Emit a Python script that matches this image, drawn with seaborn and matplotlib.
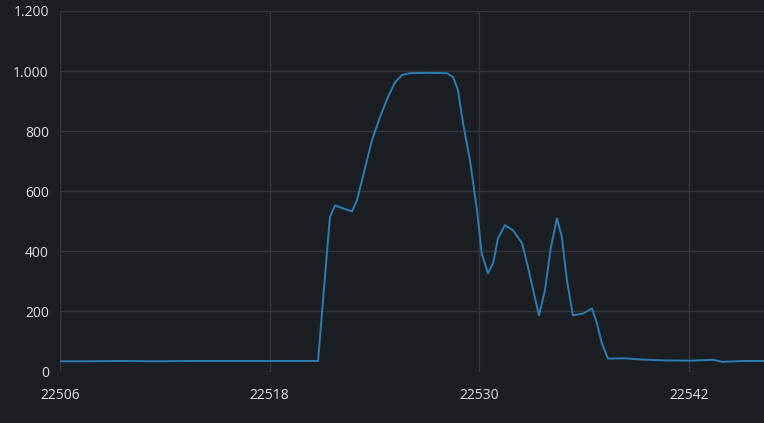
import numpy as np
import pandas as pd
import matplotlib
matplotlib.use("Agg")
import matplotlib.pyplot as plt
from matplotlib.ticker import FuncFormatter
import seaborn as sns

# values
x_vals = [22506, 22507.5, 22509.5, 22511.5, 22513.5, 22515.5, 22517.5, 22519.5,
          22520.77, 22521.45, 22521.74, 22522.20, 22522.71, 22523.00, 22523.29,
          22523.57, 22523.86, 22524.32, 22524.77, 22525.18, 22525.58, 22526.03,
          22527.0, 22528.15, 22528.50, 22528.78, 22529.07, 22529.47, 22529.87,
          22530.14, 22530.50, 22530.79, 22531.07, 22531.47, 22531.93, 22532.45,
          22532.79, 22533.13, 22533.42, 22533.76, 22534.10, 22534.45, 22534.73,
          22535.02, 22535.36, 22535.94, 22536.45, 22536.74, 22537.02, 22537.37,
          22538.3, 22539.2, 22540.6, 22542.1, 22543.4, 22543.9, 22545.1, 22546.3]
y_vals = [34, 34, 35, 34, 35, 35, 35, 35,
          35, 513, 553, 543, 533, 570, 637,
          703, 770, 847, 913, 963, 987, 993,
          994, 993, 980, 937, 827, 703, 537,
          393, 327, 360, 443, 487, 470, 427,
          347, 260, 187, 270, 413, 510, 447,
          303, 187, 193, 210, 160, 93, 43,
          44, 40, 37, 36, 39, 32, 35, 35]
x_ticks = [22506, 22518, 22530, 22542]
y_ticks = [0, 200, 400, 600, 800, 1000, 1200]

df = pd.DataFrame({"x": x_vals, "y": y_vals})

bg = "#1b1e22"
grid = "#34383d"
text = "#dcdee0"

sns.set_style("dark")
plt.rcParams["font.family"] = ["Open Sans", "DejaVu Sans"]

fig = plt.figure(figsize=(7.64, 4.23), dpi=100, facecolor=bg)
ax = fig.add_axes([60 / 764, (423 - 371.5) / 423, 1 - 60 / 764, 360.5 / 423])
ax.set_facecolor(bg)

sns.lineplot(data=df, x="x", y="y", ax=ax, color="#2c7db3", linewidth=1.4)

ax.set_xlim(22506, 22546.3)
ax.set_ylim(0, 1200)
ax.set_xticks(x_ticks)
ax.set_yticks(y_ticks)
ax.yaxis.set_major_formatter(FuncFormatter(lambda v, p: f"{int(v):,}".replace(",", ".")))
ax.xaxis.set_major_formatter(FuncFormatter(lambda v, p: f"{int(v)}"))
ax.grid(True, color=grid, linewidth=1)
ax.tick_params(colors=text, labelsize=10, length=0, pad=8)
ax.tick_params(axis="x", pad=12)
ax.set_xlabel("")
ax.set_ylabel("")
for s in ax.spines.values():
    s.set_visible(False)

fig.savefig("out.png", dpi=100, facecolor=bg)
